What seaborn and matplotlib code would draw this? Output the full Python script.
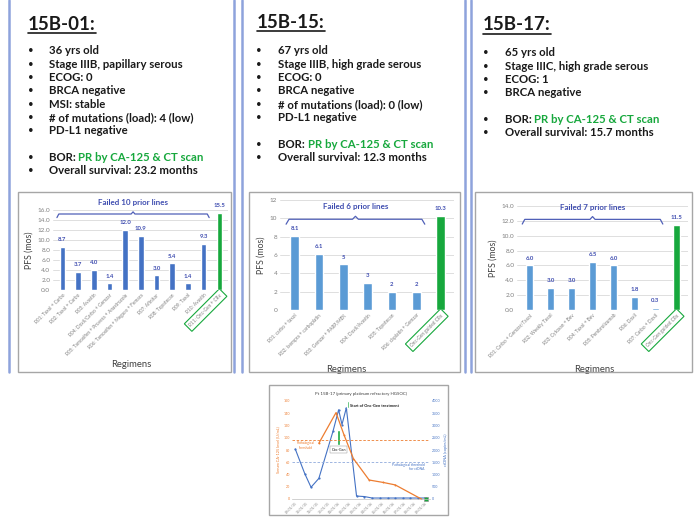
import numpy as np
import pandas as pd
import matplotlib
matplotlib.use("Agg")
import matplotlib.pyplot as plt
from matplotlib.lines import Line2D
from matplotlib.patches import Rectangle
import seaborn as sns

sns.set_theme(style="white")
plt.rcParams["font.family"] = ["Lato", "DejaVu Sans"]

W, H = 695, 517

GREEN = "#17a83d"
DARK_BLUE = "#4472c4"
LIGHT_BLUE = "#5b9bd5"
NAVY = "#3f4db0"
TICK_GRAY = "#7f7f7f"
PANEL_LINE = "#8ea3dc"
FRAME_GRAY = "#a6a6a6"
ORANGE = "#ed7d31"
TEXT_DARK = "#1a1a1a"

# ---- patient summaries ----
TITLE_01 = "15B-01:"
FACTS_01 = ["36 yrs old", "Stage IIIB, papillary serous", "ECOG: 0", "BRCA negative",
            "MSI: stable", "# of mutations (load): 4 (low)", "PD-L1 negative"]
OS_01 = "Overall survival: 23.2 months"

TITLE_15 = "15B-15:"
FACTS_15 = ["67 yrs old", "Stage IIIB, high grade serous", "ECOG: 0", "BRCA negative",
            "# of mutations (load): 0 (low)", "PD-L1 negative"]
OS_15 = "Overall survival: 12.3 months"

TITLE_17 = "15B-17:"
FACTS_17 = ["65 yrs old", "Stage IIIC, high grade serous", "ECOG: 1", "BRCA negative"]
OS_17 = "Overall survival: 15.7 months"

BOR = "PR by CA-125 & CT scan"

# ---- PFS per regimen ----
REGIMENS_01 = ["R01: Taxol + Carbo", "R02: Taxol + Carbo", "R03: Avastin",
               "R04: Doxil/Carbo + Gemzar", "R05: Tamoxifen + Provera + Anastrozole",
               "R06: Tamoxifen + Megace + Femara", "R07: Afinitor",
               "R08: Topotecan", "R09: Taxol", "R10: Avastin", "R11: Onc-Gen + CRx"]
PFS_01 = [8.7, 3.7, 4.0, 1.4, 12.0, 10.9, 3.0, 5.4, 1.4, 9.3, 15.5]
FAILED_01 = 10

REGIMENS_15 = ["R01: carbo + taxol", "R02: Ixempra + carboplatin",
               "R03: Gemzar + PARP/MEK", "R04: Doxil/Avastin", "R05: Topotecan",
               "R06: cisplatin + Gemzar", "Onc-Gen guided CRx"]
PFS_15 = [8.1, 6.1, 5, 3, 2, 2, 10.3]
FAILED_15 = 6

REGIMENS_17 = ["R01: Carbo + Gemzar/Taxol", "R02: Weekly Taxol", "R03: Cytoxan + Bev",
               "R04: Taxol + Bev", "R05: Pembrolizumab", "R06: Doxil",
               "R07: Carbo + Doxil", "Onc-Gen guided CRx"]
PFS_17 = [6.0, 3.0, 3.0, 6.5, 6.0, 1.8, 0.3, 11.5]
FAILED_17 = 7

# ---- 15B-17 marker course ----
MONTH_TICKS = ["09/01/15", "10/01/15", "11/01/15", "12/01/15", "01/01/16", "02/01/16",
               "03/01/16", "04/01/16", "05/01/16", "06/01/16", "07/01/16", "08/01/16",
               "09/01/16"]
CA125_MONTH = [2.17, 3.75, 4.5, 5.35, 6.8, 8.1, 9.2, 11.6]
CA125_VALUE = [91, 141, 104, 66, 31, 27, 23, 0]
CTDNA_MONTH = [0, 0.87, 1.45, 2.17, 3.47, 3.99, 4.3, 4.7, 5.64, 6.36, 7.08, 7.8,
               8.5, 9.2, 9.9, 10.6, 11.3, 12.0]
CTDNA_VALUE = [2040, 1040, 480, 840, 2760, 3640, 3040, 3720, 120, 100, 40, 40,
               40, 40, 40, 40, 40, 40]
CA125_THRESHOLD = 96
CTDNA_THRESHOLD = 1520
EVENT_MONTH = [3.99, 4.83]
EVENT_LOW = [88, 148]
EVENT_HIGH = [113, 160]


def fx(x):
    return x / W


def fy(y):
    return 1 - y / H


fig = plt.figure(figsize=(W / 100, H / 100), dpi=100)
fig.patch.set_facecolor("white")


def add_ax(x0, y0, x1, y1):
    return fig.add_axes([fx(x0), fy(y1), (x1 - x0) / W, (y1 - y0) / H])


def frame(x0, y0, x1, y1, color=FRAME_GRAY, lw=1.0):
    fig.add_artist(Rectangle((fx(x0), fy(y1)), (x1 - x0) / W, (y1 - y0) / H,
                             transform=fig.transFigure, fill=False,
                             edgecolor=color, linewidth=lw))


# panel separators
for xv in [9, 234, 242, 465, 471]:
    fig.add_artist(Line2D([fx(xv), fx(xv)], [fy(0), fy(372)], transform=fig.transFigure,
                          color=PANEL_LINE, linewidth=1.8))

renderer = fig.canvas.get_renderer()
STEP = 13.3
FACT_SIZE = 8.2


def patient_panel(title, facts, os_text, x_title, y_title, x_bullet, x_text, y_first):
    t = fig.text(fx(x_title), fy(y_title), title, fontsize=13.5, fontweight="bold",
                 color=TEXT_DARK, ha="left", va="center")
    bb = t.get_window_extent(renderer)
    fig.add_artist(Line2D([bb.x0 / W, bb.x1 / W], [fy(y_title + 8.5)] * 2,
                          transform=fig.transFigure, color=TEXT_DARK, linewidth=1.2))
    rows = list(facts) + [None, "BOR", os_text]
    for i, row in enumerate(rows):
        if row is None:
            continue
        y = y_first + i * STEP
        fig.text(fx(x_bullet), fy(y), "\u2022", fontsize=7, color=TEXT_DARK,
                 ha="left", va="center")
        if row == "BOR":
            b = fig.text(fx(x_text), fy(y), "BOR: ", fontsize=FACT_SIZE, fontweight="bold",
                         color=TEXT_DARK, ha="left", va="center")
            bx = b.get_window_extent(renderer).x1
            fig.text(bx / W, fy(y), BOR, fontsize=FACT_SIZE, fontweight="bold",
                     color=GREEN, ha="left", va="center")
        else:
            fig.text(fx(x_text), fy(y), row, fontsize=FACT_SIZE, fontweight="bold",
                     color=TEXT_DARK, ha="left", va="center")


patient_panel(TITLE_01, FACTS_01, OS_01, 28, 24, 28, 49, 51)
patient_panel(TITLE_15, FACTS_15, OS_15, 257, 22, 256, 278, 51)
patient_panel(TITLE_17, FACTS_17, OS_17, 483, 25, 483, 505, 53)


def pfs_chart(box, rect, labels, values, failed, bar_color, ymax, fmt, brace_y,
              text_y, lab_off):
    frame(*box)
    ax = add_ax(*rect)
    colors = [bar_color] * (len(values) - 1) + [GREEN]
    sns.barplot(x=labels, y=values, hue=labels, palette=colors, legend=False,
                width=0.36, saturation=1, ax=ax)
    ax.set_ylim(0, ymax)
    ax.set_xlim(-0.6, len(values) - 0.45)
    ax.set_yticks(np.arange(0, ymax + 0.01, 2))
    ax.set_yticklabels([fmt.format(v) for v in np.arange(0, ymax + 0.01, 2)],
                       fontsize=4.6, color=TICK_GRAY)
    ax.yaxis.grid(True, color="#d9d9d9", linewidth=0.6)
    ax.set_axisbelow(True)
    for s in ax.spines.values():
        s.set_visible(False)
    ax.tick_params(axis="both", length=0, pad=2)
    ax.set_xticks(range(len(labels)))
    ax.set_xticklabels(labels, rotation=45, ha="right", rotation_mode="anchor",
                       fontsize=3.4, color=TICK_GRAY)
    ax.get_xticklabels()[-1].set_bbox(dict(boxstyle="square,pad=0.6", fc="none",
                                           ec=GREEN, lw=0.8))
    for i, v in enumerate(values):
        ax.text(i, v + lab_off, f"{v:g}" if fmt == "{:g}" else f"{v:.1f}",
                ha="center", va="bottom", fontsize=4.3, fontweight="bold", color=NAVY)
    # brace over the failed lines
    xa, xb = -0.35, failed - 1 + 0.35
    xm = (xa + xb) / 2
    d = ymax * 0.045
    e = 0.12
    ax.plot([xa, xa + e, xm - e, xm, xm + e, xb - e, xb],
            [brace_y - d, brace_y, brace_y, brace_y + d * 0.6, brace_y, brace_y, brace_y - d],
            color="#5060b8", linewidth=0.9, solid_joinstyle="round", clip_on=False)
    ax.text(xm, text_y, f"Failed {failed} prior lines", ha="center", va="center",
            fontsize=5.8, fontweight="bold", color=NAVY, clip_on=False)
    ax.set_ylabel("PFS (mos)", fontsize=6.3, color="#404040", labelpad=3)
    ax.set_xlabel("Regimens", fontsize=6.8, color="#404040")
    return ax


ax1 = pfs_chart((18, 192, 231, 372), (53, 210, 228, 290), REGIMENS_01, PFS_01,
                FAILED_01, DARK_BLUE, 16, "{:.1f}", 15.2, 17.6, 0.9)
ax1.xaxis.set_label_coords(0.45, -0.88)
ax2 = pfs_chart((249, 192, 460, 372), (280, 200, 454, 310), REGIMENS_15, PFS_15,
                FAILED_15, LIGHT_BLUE, 12, "{:g}", 9.9, 11.3, 0.5)
ax2.xaxis.set_label_coords(0.38, -0.5)
ax3 = pfs_chart((475, 192, 692, 372), (517, 206, 688, 310), REGIMENS_17, PFS_17,
                FAILED_17, LIGHT_BLUE, 14, "{:.1f}", 12.2, 13.8, 0.6)
ax3.xaxis.set_label_coords(0.45, -0.53)

# ---- bottom course chart ----
frame(269, 385, 448, 515)
axb = add_ax(292, 401, 430, 499)
axr = axb.twinx()
sns.lineplot(x=CTDNA_MONTH, y=CTDNA_VALUE, color=DARK_BLUE, linewidth=0.8,
             marker="o", markersize=1.6, markeredgewidth=0, ax=axr)
sns.lineplot(x=CA125_MONTH, y=CA125_VALUE, color=ORANGE, linewidth=0.9,
             marker="o", markersize=1.4, markeredgewidth=0, ax=axb)
axb.set_zorder(axr.get_zorder() + 1)
axb.patch.set_visible(False)
axb.axhline(CA125_THRESHOLD, color=ORANGE, linestyle=(0, (3, 2)), linewidth=0.6)
axr.axhline(CTDNA_THRESHOLD, color="#8faadc", linestyle=(0, (3, 2)), linewidth=0.6)
axb.bar(EVENT_MONTH, np.subtract(EVENT_HIGH, EVENT_LOW), bottom=EVENT_LOW,
        width=0.22, color=GREEN)
axb.plot([12.0], [0], marker="s", markersize=3, color=GREEN, markeredgecolor="#888888",
         markeredgewidth=0.4, clip_on=False)
axb.set_xlim(-0.3, 12.4)
axb.set_ylim(0, 160)
axr.set_ylim(0, 4000)
axb.set_yticks(range(0, 161, 20))
axr.set_yticks(range(0, 4001, 500))
axb.tick_params(axis="y", labelsize=2.6, labelcolor=ORANGE, length=0, pad=1.5)
axr.tick_params(axis="y", labelsize=2.6, labelcolor=DARK_BLUE, length=0, pad=1.5)
axb.set_xticks(range(len(MONTH_TICKS)))
axb.set_xticklabels(MONTH_TICKS, rotation=45, ha="right", rotation_mode="anchor",
                    fontsize=2.4, color=TICK_GRAY)
axb.tick_params(axis="x", length=0, pad=1.5)
for a in (axb, axr):
    for s in a.spines.values():
        s.set_visible(False)
axb.spines["bottom"].set_visible(True)
axb.spines["bottom"].set_color("#bfbfbf")
axb.spines["bottom"].set_linewidth(0.5)
axb.set_ylabel("Serum CA-125 level (U/mL)", fontsize=2.8, color=ORANGE, labelpad=2)
axr.set_ylabel("ctDNA (copies/mL)", fontsize=2.8, color=DARK_BLUE, labelpad=2)
axb.set_title("Pt 15B-17 (primary platinum refractory HGSOC)", fontsize=3.2,
              color="#404040", pad=4)
axb.text(1.0, 94, "Pathological\nthreshold", fontsize=2.4, color=ORANGE,
         ha="center", va="top")
axb.text(4.0, 84, "Onc-Gen", fontsize=2.6, color=TEXT_DARK, ha="center", va="top",
         bbox=dict(boxstyle="square,pad=0.3", fc="white", ec="#888888", lw=0.3))
axb.text(5.05, 152, "Start of Onc-Gen treatment", fontsize=2.8, fontweight="bold",
         color=TEXT_DARK, ha="left", va="center")
axb.text(11.9, 59, "Pathological threshold\nfor ctDNA", fontsize=2.4,
         color=DARK_BLUE, ha="right", va="top")

fig.savefig("out.png", dpi=100, facecolor="white")
